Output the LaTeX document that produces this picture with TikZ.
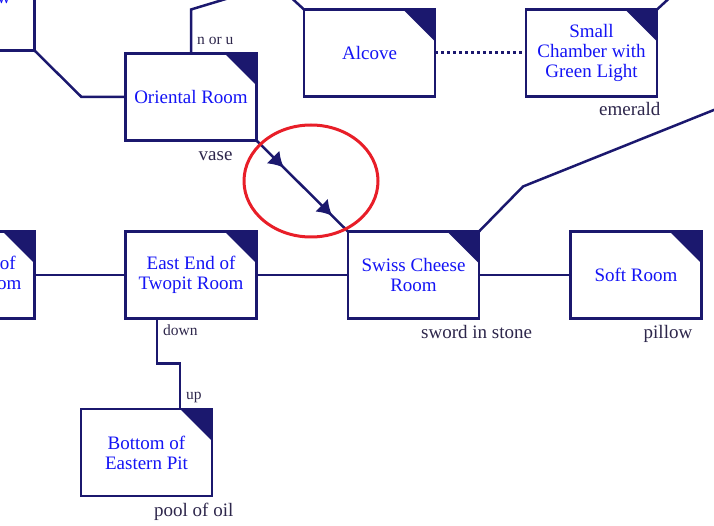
\documentclass[tikz,border=0pt]{standalone}
\usepackage{fontspec}
\setmainfont{Liberation Serif}
\usetikzlibrary{arrows.meta,decorations.markings}
\definecolor{mapline}{RGB}{27,24,110}
\definecolor{roomtext}{RGB}{20,20,245}
\definecolor{labeltext}{RGB}{45,38,75}
\definecolor{ringred}{RGB}{232,30,40}

\begin{document}
\begin{tikzpicture}[x=1pt,y=-1pt,
	room_node/.style={rectangle,draw=mapline,line width=2.8pt,fill=white,minimum width=131pt,minimum height=87pt,inner sep=2pt,outer sep=0pt,align=center,text=roomtext,font=\fontsize{19}{20}\selectfont,
		path picture={\fill[mapline] (path picture bounding box.north east) -- ++(-32pt,0pt) -- ++(32pt,-32pt) -- cycle;}},
	item_label/.style={anchor=base west,inner sep=0pt,text=labeltext,font=\fontsize{19}{20}\selectfont},
	exit_label/.style={anchor=base west,inner sep=0pt,text=labeltext,font=\fontsize{15.5}{17}\selectfont},
	link/.style={draw=mapline,line width=2.5pt},
	one_way/.style={postaction={decorate},decoration={markings,
		mark=at position 0.3 with {\arrow{Latex[length=15pt,width=18pt]}},
		mark=at position 0.83 with {\arrow{Latex[length=15pt,width=18pt]}}}}]
	\useasboundingbox (0,0) rectangle (714,526);
	\clip (0,0) rectangle (714,526);
	\node[room_node] (lowroom) at (-31,7) {Large Low\\Room};
	\node[room_node] (oriental) at (191,97) {Oriental Room};
	\node[room_node] (alcove) at (369.5,53) {Alcove};
	\node[room_node] (chamber) at (591.5,53) {Small\\Chamber with\\Green Light};
	\node[room_node] (westend) at (-31,275) {West End of\\Twopit Room};
	\node[room_node] (eastend) at (191,275) {East End of\\Twopit Room};
	\node[room_node] (swiss) at (413.5,275) {Swiss Cheese\\Room};
	\node[room_node] (soft) at (636,275) {Soft Room};
	\node[room_node] (pit) at (146.5,452.5) {Bottom of\\Eastern Pit};
	\coordinate (misty) at (249,-8);
	\coordinate (alcove_exit) at (285,-8);
	\coordinate (chamber_exit) at (676,-8);
	\coordinate (swiss_exit) at (740,99.5);
	\draw[link] (lowroom.south east) -- ([xshift=-44pt]oriental.west) -- (oriental.west);
	\draw[link] (oriental.north) -- ++(0,-44) -- (misty);
	\draw[link] (alcove.north west) -- (alcove_exit);
	\draw[link] (chamber.north east) -- (chamber_exit);
	\draw[link,line width=3pt,dash pattern=on 3pt off 3pt] (alcove) -- (chamber);
	\draw[link] (westend) -- (eastend);
	\draw[link] (eastend) -- (swiss);
	\draw[link] (swiss) -- (soft);
	\draw[link] (swiss.north east) -- ++(44,-45) -- (swiss_exit);
	\draw[link] ([xshift=-34pt]eastend.south) -- ++(0,45) -| ([xshift=33.5pt]pit.north);
	\draw[link,one_way] (oriental.south east) -- (swiss.north west);
	\node[exit_label] (n_or_u) at ([xshift=6pt,yshift=9pt]oriental.north) {n or u};
	\node[exit_label] (down) at ([xshift=-28pt,yshift=-17pt]eastend.south) {down};
	\node[exit_label] (up) at ([xshift=39.5pt,yshift=9.5pt]pit.north) {up};
	\node[item_label] (vase) at ([xshift=73pt,yshift=-20pt]oriental.south west) {vase};
	\node[item_label] (emerald) at ([xshift=73pt,yshift=-19pt]chamber.south west) {emerald};
	\node[item_label] (sword) at ([xshift=73pt,yshift=-20pt]swiss.south west) {sword in stone};
	\node[item_label] (pillow) at ([xshift=73pt,yshift=-20pt]soft.south west) {pillow};
	\node[item_label] (oil) at ([xshift=73pt,yshift=-20pt]pit.south west) {pool of oil};
	\draw[ringred,line width=3pt] (311,181) ellipse [x radius=67pt,y radius=56pt];
\end{tikzpicture}
\end{document}
